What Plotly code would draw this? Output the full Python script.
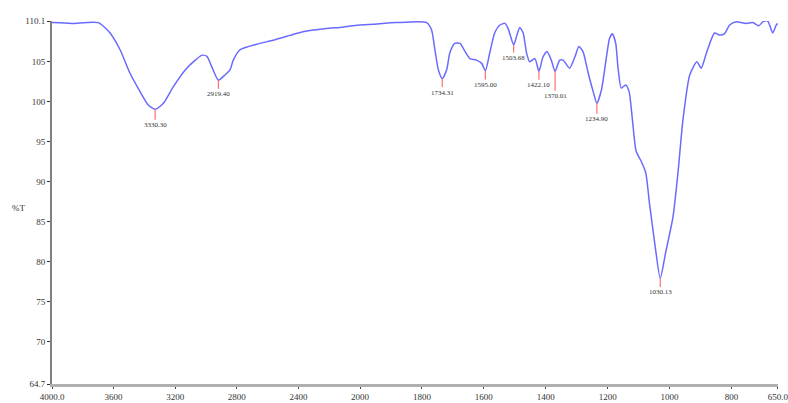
import numpy as np
import plotly.graph_objects as go

# FTIR transmittance spectrum: wavenumber (cm-1) vs %T
wavenumber = [
    4000, 3872, 3700, 3623, 3558, 3494, 3429, 3375, 3330.30, 3277, 3212, 3125,
    3028, 2995, 2963, 2919.40, 2877, 2844, 2823, 2779, 2671, 2563, 2455, 2401,
    2325, 2200, 2130, 2050, 2000, 1957, 1882, 1785, 1769, 1758, 1747, 1734.31,
    1720, 1710, 1694, 1677, 1661, 1645, 1624, 1607, 1595.00, 1581, 1565, 1548,
    1532, 1522, 1503.68, 1495, 1484, 1473, 1462, 1452, 1435, 1422.10, 1409,
    1396, 1382, 1370.01, 1355, 1344, 1323, 1306, 1293, 1280, 1263, 1247,
    1234.90, 1220, 1204, 1194, 1185, 1174, 1167, 1156, 1142, 1131, 1120, 1108,
    1091, 1077, 1065, 1048, 1030.13, 1013, 989, 973, 957, 935, 912, 898, 881,
    855, 839, 823, 806, 785, 753, 731, 712, 699, 683, 667, 654, 650,
]
transmittance = [
    109.9, 109.8, 109.9, 108.6, 106.5, 103.6, 101.3, 99.6, 99.05, 99.8, 101.9, 104.2,
    105.8, 105.7, 104.4, 102.7, 103.35, 104.0, 105.2, 106.5, 107.2, 107.7, 108.3, 108.6,
    108.9, 109.2, 109.3, 109.5, 109.6, 109.7, 109.9, 109.9, 109.0, 106.5, 104.0, 102.9,
    104.0, 106.1, 107.3, 107.3, 106.3, 105.4, 105.2, 104.8, 103.85, 106.1, 108.6, 109.6,
    109.8, 109.2, 107.1, 108.1, 109.3, 108.6, 106.1, 105.0, 105.4, 103.8, 105.6,
    106.3, 105.2, 103.8, 105.2, 105.2, 104.2, 105.6, 106.9, 106.3, 103.6, 101.3,
    99.8, 101.5, 105.6, 107.9, 108.5, 107.3, 104.4, 101.7, 102.1, 101.3, 97.7, 93.8,
    92.5, 91.1, 87.3, 82.3, 77.9, 81.1, 85.6, 91.1, 97.7, 103.35, 105.0, 104.2, 106.1,
    108.6, 108.35, 108.5, 109.6, 110.0, 109.8, 109.9, 109.5, 110.0, 110.1, 108.6, 109.7, 109.7,
]

# Labelled absorption bands
peak_wavenumbers = [3330.30, 2919.40, 1734.31, 1595.00, 1503.68, 1422.10, 1370.01, 1234.90, 1030.13]
peak_label_drop = [16, 14, 14, 14, 13, 14, 25, 16, 14]

# Axis ticks: the scale is compressed above 2000 cm-1
hi_ticks = [4000, 3600, 3200, 2800, 2400]
hi_ticktext = ["4000.0", "3600", "3200", "2800", "2400"]
lo_ticks = [2000, 1800, 1600, 1400, 1200, 1000, 800, 650]
lo_ticktext = ["2000", "1800", "1600", "1400", "1200", "1000", "800", "650.0"]
y_ticks = [110.1, 105, 100, 95, 90, 85, 80, 75, 70, 64.7]
y_ticktext = ["110.1", "105", "100", "95", "90", "85", "80", "75", "70", "64.7"]

wn = np.array(wavenumber, dtype=float)
tr = np.array(transmittance, dtype=float)
hi = wn >= 2000
lo = wn <= 2000

LINE = dict(color="#6a6aff", width=1.5, shape="spline", smoothing=0.6)
FONT = "Liberation Serif"

fig = go.Figure()
fig.add_trace(go.Scatter(x=wn[hi], y=tr[hi], mode="lines", line=LINE,
                         xaxis="x", yaxis="y", showlegend=False, hoverinfo="skip"))
fig.add_trace(go.Scatter(x=wn[lo], y=tr[lo], mode="lines", line=LINE,
                         xaxis="x2", yaxis="y", showlegend=False, hoverinfo="skip"))

# Peak markers with wavenumber labels
order = np.argsort(wn)
for pw, drop in zip(peak_wavenumbers, peak_label_drop):
    pt = float(np.interp(pw, wn[order], tr[order]))
    fig.add_annotation(
        x=pw, y=pt, xref="x" if pw >= 2000 else "x2", yref="y",
        text=f"{pw:.2f}", showarrow=True, arrowhead=0, arrowwidth=1.2,
        arrowcolor="#ff7070", ax=0, ay=drop, standoff=0,
        font=dict(family=FONT, size=7, color="#333333"),
    )

plot_w = 788 - 52 - 10
plot_h = 403 - 21 - 19
fig.add_annotation(x=(18 - 52) / plot_w, y=(403 - 19 - 208) / plot_h,
                   xref="paper", yref="paper", xanchor="center", yanchor="middle",
                   text="%T", showarrow=False,
                   font=dict(family=FONT, size=9, color="#333333"))

split = (360 - 52) / plot_w
xcommon = dict(showgrid=False, zeroline=False, showline=True, linecolor="#b0b0b0",
               linewidth=3, ticks="outside", ticklen=2, tickwidth=1, tickcolor="#444444",
               tickfont=dict(family=FONT, size=9, color="#333333"), anchor="y",
               automargin=False, ticklabeloverflow="allow")

fig.update_layout(
    width=788, height=403,
    margin=dict(l=52, r=10, t=21, b=19, autoexpand=False),
    paper_bgcolor="white", plot_bgcolor="white",
    xaxis=dict(domain=[0, split], range=[4000, 2000], tickmode="array",
               tickvals=hi_ticks, ticktext=hi_ticktext, **xcommon),
    xaxis2=dict(domain=[split, 1], range=[2000, 649.9], tickmode="array",
                tickvals=lo_ticks, ticktext=lo_ticktext, **xcommon),
    yaxis=dict(range=[64.7, 110.1], tickmode="array", tickvals=y_ticks,
               ticktext=y_ticktext, showgrid=False, zeroline=False, showline=True,
               linecolor="#808080", linewidth=2, ticks="outside", ticklen=3,
               tickcolor="#333333", automargin=False,
               tickfont=dict(family=FONT, size=9, color="#333333")),
)

fig.write_html("out.html")
